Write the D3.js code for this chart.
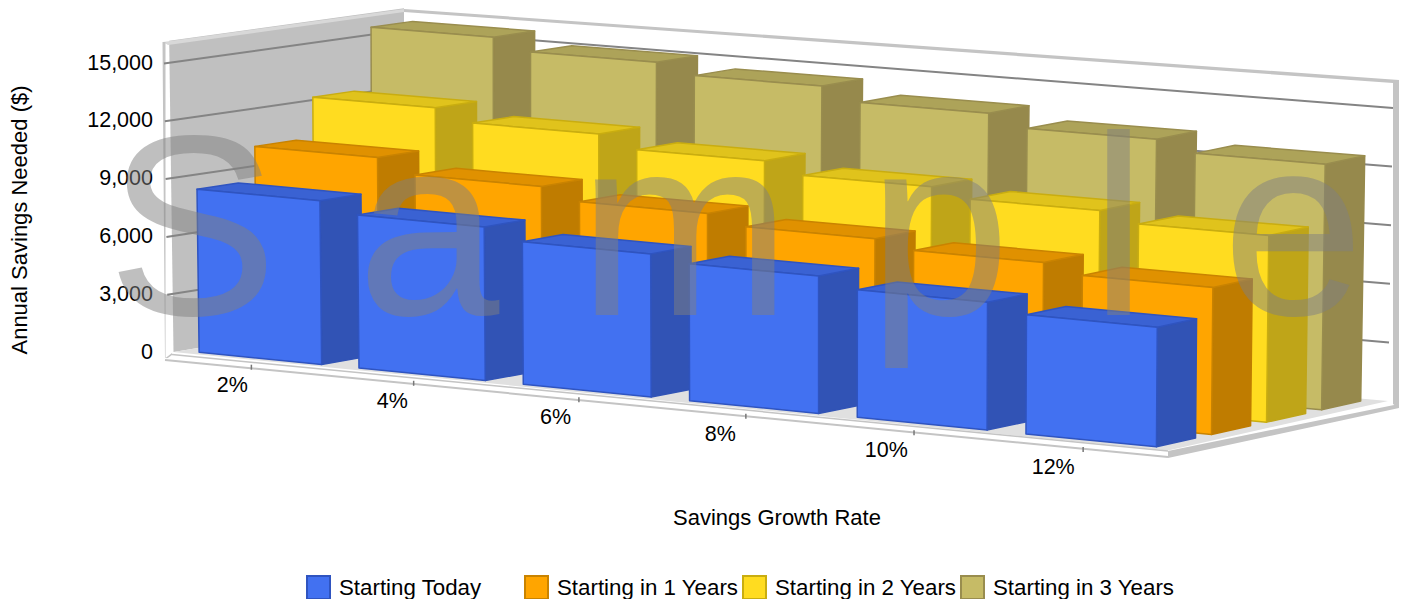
<!DOCTYPE html>
<html>
<head>
<meta charset="utf-8">
<title>Annual Savings Needed</title>
<script src="https://cdn.jsdelivr.net/npm/d3@7/dist/d3.min.js"></script>
<style>
  html, body { margin: 0; padding: 0; background: #fff; overflow: hidden; }
  svg { display: block; }
  text { font-family: "Liberation Sans", Arial, sans-serif; fill: #000; }
</style>
</head>
<body>
<svg id="chart" width="1401" height="599"></svg>
<script>
// Chart data
const categories = ["2%", "4%", "6%", "8%", "10%", "12%"];
const seriesNames = ["Starting Today", "Starting in 1 Years", "Starting in 2 Years", "Starting in 3 Years"];
const startingToday = [8470, 7920, 7350, 7030, 6520, 6070];
const startingIn1Years = [10240, 9510, 8900, 8390, 7960, 7480];
const startingIn2Years = [12360, 11730, 11090, 10500, 10040, 9520];
const startingIn3Years = [15590, 14970, 14440, 13750, 13120, 12560];
const seriesValues = [startingToday, startingIn1Years, startingIn2Years, startingIn3Years];
const valueTicks = [0, 3000, 6000, 9000, 12000, 15000];
const wallTopValue = 16150;

// Face colours per series: front, side, top, edge
const faceColors = [
  { front: "#4271f1", side: "#3153b5", top: "#3a62d3", edge: "#2f54c0" },
  { front: "#ffa500", side: "#bf7c00", top: "#e09100", edge: "#c98300" },
  { front: "#ffdc20", side: "#bfa518", top: "#e0c31c", edge: "#c9ad10" },
  { front: "#c6bb66", side: "#96894c", top: "#ada359", edge: "#998d4e" }
];

// Screen corners of the floor and of the 15,000 plane: front-left, front-right, back-right, back-left
const floorQuad = [[173.5, 352], [1168, 450.5], [1388, 401], [404, 314]];
const topQuad = [[169.5, 63], [1170, 155], [1393, 108], [404, 30]];

// Maps the unit square onto a quadrilateral by bilinear blending of its corners
function quadProjection(q) {
  const [p0, p1, p2, p3] = q;
  return (u, v) => [0, 1].map(k =>
    (1 - v) * ((1 - u) * p0[k] + u * p1[k]) + v * ((1 - u) * p3[k] + u * p2[k]));
}

const floorAt = quadProjection(floorQuad);
const topAt = quadProjection(topQuad);
const heightScale = d3.scaleLinear().domain([0, 15000]).range([0, 1]);

// A slight warp gives the nearer categories their extra width
const widthWarp = d3.scalePow().exponent(1.025).domain([0, 1]).range([0, 1]);
const catScale = d3.scaleBand().domain(categories).range([0, 1]).paddingInner(0.23).paddingOuter(0.115);
const rowScale = d3.scaleBand().domain(seriesNames).range([0, 1]).paddingInner(0.29).paddingOuter(0.145);
const labelShift = d3.scaleLinear().domain([0, 1]).range([18, 31]);

function project(u, v, value) {
  const wu = widthWarp(u);
  const f = floorAt(wu, v), t = topAt(wu, v), k = heightScale(value);
  return [f[0] + (t[0] - f[0]) * k, f[1] + (t[1] - f[1]) * k];
}

const svg = d3.select("#chart");
const pathOf = pts => "M" + pts.map(p => p[0].toFixed(2) + "," + p[1].toFixed(2)).join("L") + "Z";

// Walls and floor
const walls = svg.append("g");
walls.append("path").attr("d", pathOf([project(0, 0, wallTopValue), project(0, 1, wallTopValue), project(0, 1, 0), project(0, 0, 0)]))
  .attr("fill", "#c0c0c0");
walls.append("path").attr("d", pathOf([project(0, 0, 0), project(1, 0, 0), project(1, 1, 0), project(0, 1, 0)]))
  .attr("fill", "#e0e0e0");

// Frame strips along the wall edges and the base of the plot
const frameColor = "#c4c4c4";
const frameStrips = [
  { pts: [[163, 42], [404, 9], [404, 12], [168, 45]], fill: "#d8d8d8" },
  { pts: [[404, 9], [1399, 80], [1393, 83], [404, 12]], fill: frameColor },
  { pts: [[162.5, 42], [165.5, 42], [165.5, 358], [172, 353], [172, 355], [165, 360]], fill: frameColor },
  { pts: [[1393, 80], [1399, 80], [1399, 408], [1393, 404]], fill: frameColor },
  { pts: [[165, 358], [1168, 451], [1168, 458], [165, 361]], fill: "#fff" },
  { pts: [[1168, 451], [1399, 404], [1399, 408], [1168, 458]], fill: frameColor }
];
walls.selectAll("path.strip").data(frameStrips).join("path").attr("class", "strip")
  .attr("d", d => pathOf(d.pts)).attr("fill", d => d.fill);
walls.append("line").attr("x1", 172).attr("y1", 354.5).attr("x2", 1168).attr("y2", 451)
  .attr("stroke", frameColor).attr("stroke-width", 1.5);
walls.append("line").attr("x1", 165).attr("y1", 360).attr("x2", 1168).attr("y2", 457)
  .attr("stroke", frameColor).attr("stroke-width", 2);

// Gridlines on the side wall and the back wall
const grid = svg.append("g").attr("fill", "none").attr("stroke", "#848484").attr("stroke-width", 2);
valueTicks.slice(1).forEach(t => {
  const a = project(0, 0, t), b = project(0, 1, t), c = project(1, 1, t);
  grid.append("path").attr("d", `M${a[0] - 5.5},${a[1] + 0.5}L${b[0]},${b[1]}L${c[0]},${c[1]}`);
});

// Value axis labels
svg.append("g").selectAll("text").data(valueTicks).join("text")
  .attr("x", 153)
  .attr("y", d => project(0, 0, d)[1] + 6.5)
  .attr("text-anchor", "end")
  .attr("font-size", 21.5)
  .text(d => d3.format(",")(d));

// Category ticks and labels on the front edge
const catAxis = svg.append("g");
categories.forEach(c => {
  const mid = catScale(c) + catScale.bandwidth() / 2;
  const [x, y] = project(mid, 0, 0);
  catAxis.append("line").attr("x1", x).attr("y1", y + 5).attr("x2", x).attr("y2", y + 10)
    .attr("stroke", "#777").attr("stroke-width", 1.5);
  catAxis.append("text").attr("x", x - labelShift(mid)).attr("y", y + 32)
    .attr("text-anchor", "middle").attr("font-size", 21.5).text(c);
});

// Bars, back row first so the nearer rows cover the farther ones
const bars = svg.append("g").attr("stroke-linejoin", "round");
d3.range(seriesNames.length).reverse().forEach(s => {
  const v0 = rowScale(seriesNames[s]), v1 = v0 + rowScale.bandwidth();
  const col = faceColors[s];
  categories.forEach((c, i) => {
    const u0 = catScale(c), u1 = u0 + catScale.bandwidth(), val = seriesValues[s][i];
    const g = bars.append("g").attr("stroke-width", 1.5);
    g.append("path").attr("d", pathOf([project(u1, v0, 0), project(u1, v1, 0), project(u1, v1, val), project(u1, v0, val)]))
      .attr("fill", col.side).attr("stroke", col.side);
    g.append("path").attr("d", pathOf([project(u0, v0, val), project(u1, v0, val), project(u1, v1, val), project(u0, v1, val)]))
      .attr("fill", col.top).attr("stroke", col.edge);
    g.append("path").attr("d", pathOf([project(u0, v0, 0), project(u1, v0, 0), project(u1, v0, val), project(u0, v0, val)]))
      .attr("fill", col.front).attr("stroke", col.edge);
  });
});

// Axis titles
svg.append("text").attr("x", 777).attr("y", 525).attr("text-anchor", "middle").attr("font-size", 22)
  .text("Savings Growth Rate");
svg.append("text").attr("transform", "translate(27,220) rotate(-90)").attr("text-anchor", "middle").attr("font-size", 22)
  .text("Annual Savings Needed ($)");

// Legend along the bottom edge
const legendX = d3.scalePoint().domain(seriesNames).range([307, 961]);
const legend = svg.append("g").selectAll("g").data(seriesNames).join("g")
  .attr("transform", d => `translate(${legendX(d)},576)`);
legend.append("rect").attr("width", 23).attr("height", 23)
  .attr("fill", (d, i) => faceColors[i].front).attr("stroke", (d, i) => faceColors[i].edge).attr("stroke-width", 2);
legend.append("text").attr("x", 32).attr("y", 19).attr("font-size", 22.3).text(d => d);

// Sample watermark laid over the finished chart
svg.append("text").attr("x", "107 357 578 868 1090 1222").attr("y", 315)
  .attr("font-size", 256)
  .style("fill", "#808080").attr("fill-opacity", 0.5)
  .text("Sample");
</script>
</body>
</html>
